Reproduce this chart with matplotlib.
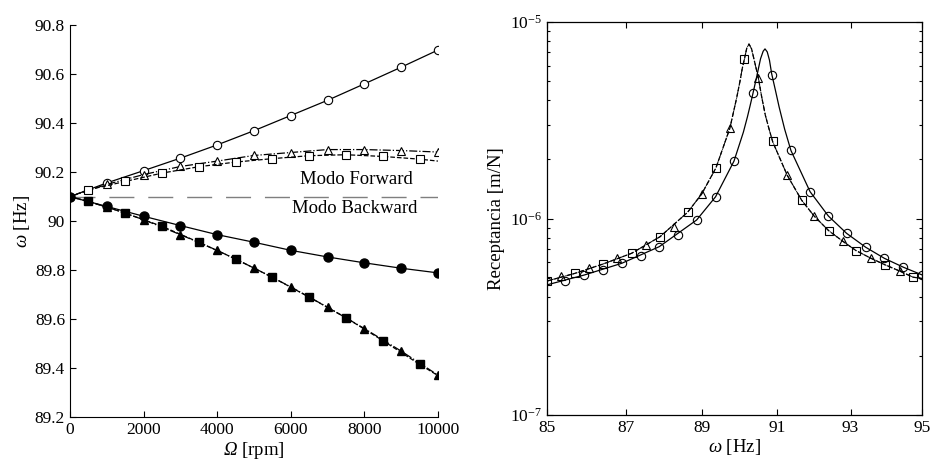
import matplotlib
matplotlib.use('Agg')
import matplotlib.pyplot as plt
import matplotlib.ticker as mticker
import numpy as np

plt.rcParams['font.family'] = ['Liberation Serif', 'DejaVu Serif']
plt.rcParams['mathtext.fontset'] = 'custom'
plt.rcParams['mathtext.rm'] = 'Liberation Serif'
plt.rcParams['mathtext.it'] = 'Liberation Serif:italic'
plt.rcParams['mathtext.sf'] = 'Liberation Serif:italic'

# === Left panel: natural frequency vs rotor speed ===
rpm_1k = [0, 1000, 2000, 3000, 4000, 5000, 6000, 7000, 8000, 9000, 10000]
rpm_half = [0, 500, 1500, 2500, 3500, 4500, 5500, 6500, 7500, 8500, 9500, 10000]

fwd_circ = [90.10, 90.156, 90.206, 90.257, 90.311, 90.369, 90.431, 90.493, 90.56, 90.628, 90.698]
fwd_tri = [90.10, 90.15, 90.19, 90.223, 90.245, 90.268, 90.28, 90.292, 90.292, 90.288, 90.282]
fwd_sq = [90.10, 90.128, 90.162, 90.196, 90.222, 90.241, 90.255, 90.267, 90.271, 90.264, 90.253, 90.245]

bwd_circ = [90.10, 90.06, 90.02, 89.982, 89.945, 89.914, 89.881, 89.854, 89.83, 89.808, 89.789]
bwd_tri = [90.10, 90.058, 90.006, 89.945, 89.881, 89.809, 89.732, 89.649, 89.562, 89.47, 89.372]
bwd_sq = [90.10, 90.081, 90.033, 89.979, 89.914, 89.846, 89.771, 89.69, 89.606, 89.513, 89.416, 89.37]

static_freq = 90.10

# === Right panel: receptance (log-log) ===
# markers
circ_f = [85.45, 85.94, 86.41, 86.90, 87.39, 87.87, 88.37, 88.85, 89.35, 89.84,
          90.35, 90.85, 91.37, 91.89, 92.39, 92.89, 93.42, 93.94, 94.47, 95.00]
circ_r = [4.81e-7, 5.16e-7, 5.47e-7, 5.92e-7, 6.47e-7, 7.19e-7, 8.24e-7, 9.83e-7, 1.29e-6, 1.96e-6,
          4.36e-6, 5.4e-6, 2.22e-6, 1.37e-6, 1.03e-6, 8.41e-7, 7.14e-7, 6.27e-7, 5.65e-7, 5.16e-7]
sq_f = [85.00, 85.70, 86.42, 87.15, 87.89, 88.61, 89.36, 90.12, 90.88, 91.66, 92.40, 93.15, 93.95, 94.74]
sq_r = [4.81e-7, 5.26e-7, 5.87e-7, 6.65e-7, 8.08e-7, 1.075e-6, 1.81e-6, 6.5e-6, 2.49e-6, 1.24e-6,
        8.67e-7, 6.87e-7, 5.82e-7, 5.03e-7]
tri_f = [85.34, 86.06, 86.78, 87.52, 88.26, 88.98, 89.73, 90.49, 91.27, 92.00, 92.78, 93.57, 94.37]
tri_r = [5.10e-7, 5.60e-7, 6.33e-7, 7.29e-7, 9.05e-7, 1.33e-6, 2.88e-6, 5.21e-6, 1.66e-6, 1.03e-6,
         7.68e-7, 6.27e-7, 5.40e-7]

# curves
fwd_line_f = [85.0, 85.94, 86.90, 87.87, 88.85, 89.35, 89.84, 90.09, 90.20, 90.27, 90.35,
              90.45, 90.55, 90.62, 90.67, 90.73, 90.79, 90.85, 90.95, 91.05, 91.20, 91.37,
              91.89, 92.39, 92.89, 93.42, 93.94, 94.47, 95.0]
fwd_line_r = [4.60e-7, 5.16e-7, 5.92e-7, 7.19e-7, 9.83e-7, 1.29e-6, 1.96e-6, 2.75e-6, 3.3e-6, 3.75e-6, 4.36e-6,
              5.3e-6, 6.5e-6, 7.1e-6, 7.3e-6, 7.05e-6, 6.4e-6, 5.45e-6, 4.5e-6, 3.7e-6, 2.85e-6, 2.22e-6,
              1.37e-6, 1.03e-6, 8.41e-7, 7.14e-7, 6.27e-7, 5.65e-7, 5.16e-7]
bwd_line_f = [85.0, 85.70, 86.42, 87.15, 87.89, 88.61, 88.98, 89.36, 89.73, 89.91, 90.00, 90.06,
              90.12, 90.18, 90.24, 90.31, 90.38, 90.49, 90.58, 90.68, 90.78, 90.88, 91.27,
              91.66, 92.00, 92.40, 92.78, 93.15, 93.57, 93.95, 94.37, 94.74, 95.0]
bwd_line_r = [4.81e-7, 5.26e-7, 5.87e-7, 6.65e-7, 8.08e-7, 1.075e-6, 1.33e-6, 1.81e-6, 2.88e-6, 4.1e-6, 5.0e-6, 5.8e-6,
              6.5e-6, 7.35e-6, 7.73e-6, 7.3e-6, 6.4e-6, 5.21e-6, 4.17e-6, 3.35e-6, 2.85e-6, 2.45e-6, 1.66e-6,
              1.24e-6, 1.03e-6, 8.67e-7, 7.68e-7, 6.87e-7, 6.27e-7, 5.82e-7, 5.40e-7, 5.03e-7, 4.95e-7]

FS = 12.5
LW = 0.9
MS = 6

fig = plt.figure(figsize=(9.33, 4.62), dpi=100)

# ---------------- left ----------------
ax1 = fig.add_axes([0.075, 0.0968, 0.3944, 0.849])
ax1.axhline(static_freq, color='#7f7f7f', lw=1.0, dashes=(18, 10), zorder=1)

ax1.plot(rpm_1k, fwd_circ, '-', color='k', lw=LW, marker='o', ms=MS,
         mfc='white', mec='k', mew=0.8, zorder=3)
ax1.plot(rpm_1k, fwd_tri, '-.', color='k', lw=LW, marker='^', ms=MS,
         mfc='white', mec='k', mew=0.8, markevery=list(range(1, 11)), zorder=3)
ax1.plot(rpm_half, fwd_sq, '--', color='k', lw=LW, marker='s', ms=MS - 0.5,
         mfc='white', mec='k', mew=0.8, markevery=list(range(1, 11)), zorder=3)

ax1.plot(rpm_half, bwd_sq, '--', color='k', lw=LW, marker='s', ms=MS - 0.5,
         mfc='k', mec='k', markevery=list(range(1, 11)), zorder=3)
ax1.plot(rpm_1k, bwd_tri, '-.', color='k', lw=LW, marker='^', ms=MS,
         mfc='k', mec='k', markevery=list(range(1, 11)), zorder=3)
ax1.plot(rpm_1k, bwd_circ, '-', color='k', lw=LW, marker='o', ms=MS + 0.5,
         mfc='k', mec='k', zorder=4)

ax1.text(7780, 90.168, 'Modo Forward', ha='center', va='center', fontsize=FS + 1)
ax1.text(7750, 90.053, 'Modo Backward', ha='center', va='center', fontsize=FS + 1)

ax1.set_xlim(0, 10000)
ax1.set_ylim(89.2, 90.8)
ax1.set_xticks(range(0, 10001, 2000))
ax1.set_yticks(np.arange(89.2, 90.81, 0.2))
ax1.yaxis.set_major_formatter(mticker.FuncFormatter(lambda v, p: f'{v:g}'))
ax1.spines['top'].set_visible(False)
ax1.spines['right'].set_visible(False)
ax1.tick_params(direction='in', length=4, labelsize=FS, width=0.8)
ax1.set_xlabel(r'$\mathsf{\Omega}$ [rpm]', fontsize=FS + 1, labelpad=1)
ax1.set_ylabel(r'$\mathsf{\omega}$ [Hz]', fontsize=FS + 1, labelpad=2)

# ---------------- right ----------------
ax2 = fig.add_axes([0.5866, 0.1017, 0.4019, 0.8506])

ax2.loglog(fwd_line_f, fwd_line_r, '-', color='k', lw=LW)
ax2.loglog(bwd_line_f, bwd_line_r, '--', color='k', lw=LW)
ax2.loglog(bwd_line_f, bwd_line_r, '-.', color='k', lw=LW * 0.8)
ax2.loglog(circ_f, circ_r, 'o', ls='none', ms=MS, mfc='none', mec='k', mew=0.8)
ax2.loglog(sq_f, sq_r, 's', ls='none', ms=MS - 0.8, mfc='none', mec='k', mew=0.8)
ax2.loglog(tri_f, tri_r, '^', ls='none', ms=MS, mfc='none', mec='k', mew=0.8)

ax2.set_xlim(85, 95)
ax2.set_ylim(1e-7, 1e-5)
ax2.xaxis.set_major_locator(mticker.FixedLocator([85, 87, 89, 91, 93, 95]))
ax2.xaxis.set_major_formatter(mticker.FuncFormatter(lambda v, p: f'{v:g}'))
ax2.xaxis.set_minor_locator(mticker.NullLocator())
ax2.yaxis.set_major_locator(mticker.LogLocator(base=10))
ax2.yaxis.set_minor_locator(mticker.LogLocator(base=10, subs=np.arange(2, 10)))
ax2.yaxis.set_minor_formatter(mticker.NullFormatter())
ax2.tick_params(which='both', direction='in', top=True, right=True, labelsize=FS, width=0.8)
ax2.tick_params(which='major', length=4)
ax2.tick_params(which='minor', length=2.5)
for sp in ax2.spines.values():
    sp.set_linewidth(0.9)
ax2.set_xlabel(r'$\mathsf{\omega}$ [Hz]', fontsize=FS + 1, labelpad=1)
ax2.set_ylabel('Receptancia [m/N]', fontsize=FS + 1, labelpad=4)

fig.savefig('out.png', dpi=100, facecolor='white')
